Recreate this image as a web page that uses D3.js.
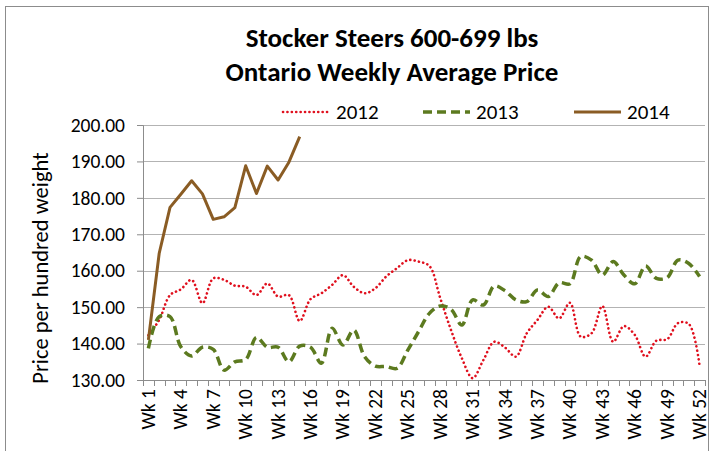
<!DOCTYPE html>
<html>
<head>
<meta charset="utf-8">
<script src="https://cdn.jsdelivr.net/npm/d3@7"></script>
<style>
    body { margin: 0; background: #fff; }
    text { font-family: Calibri, Carlito, "Liberation Sans", sans-serif; }
</style>
</head>
<body>
<svg id="chart" width="713" height="451"></svg>
<script>

// weekly averages, $/cwt
var weeks = d3.range(1, 53).map(function(d) { return 'Wk ' + d; });

var prices2012 = [142.3, 146.5, 153.3, 154.9, 157.5, 151.1, 157.9, 157.5, 155.9, 155.6,
                  153.3, 156.5, 152.9, 153.3, 146.2, 152.2, 153.8, 156.1, 158.8, 155.6,
                  153.8, 155.2, 158.4, 160.7, 162.9, 162.5, 161.3, 152.5, 143.7, 136.0,
                  130.5, 135.5, 140.5, 138.9, 136.4, 142.8, 146.5, 150.1, 146.9, 151.2,
                  141.9, 142.8, 150.3, 140.5, 144.8, 142.4, 136.4, 140.8, 141.2, 145.6,
                  145.4, 133.9];

var prices2013 = [138.7, 147.4, 147.4, 139.1, 136.6, 139.0, 138.4, 132.7, 135.0, 135.6,
                  141.7, 139.0, 139.0, 135.0, 139.3, 139.0, 134.6, 144.2, 139.6, 143.7,
                  136.4, 133.8, 133.7, 133.2, 138.2, 143.3, 148.3, 150.3, 149.4, 145.1,
                  152.0, 150.6, 155.8, 154.5, 152.0, 151.5, 154.7, 152.9, 156.7, 156.4,
                  163.9, 162.9, 158.8, 162.5, 158.8, 156.4, 161.3, 157.9, 158.1, 162.9,
                  162.0, 158.4];

var prices2014 = [141.0, 164.8, 177.4, 181.0, 184.7, 181.1, 174.1, 174.8, 177.3, 188.8,
                  181.2, 188.7, 184.9, 189.8, 196.8];

var yTicks = [130, 140, 150, 160, 170, 180, 190, 200];
var xLabelWeeks = [1, 4, 7, 10, 13, 16, 19, 22, 25, 28, 31, 34, 37, 40, 43, 46, 49, 52];

var series = [
    { name: '2012', values: prices2012, color: '#e0101e', width: 2.6, dash: '0.1,4.3', cap: 'round', curve: d3.curveCatmullRom },
    { name: '2013', values: prices2013, color: '#5c7a1f', width: 3.5, dash: '9,5', cap: 'butt', curve: d3.curveCatmullRom },
    { name: '2014', values: prices2014, color: '#8a5c24', width: 3, dash: null, cap: 'butt', curve: d3.curveLinear }
];

var svg = d3.select('#chart');

var margin = { left: 143, right: 8, top: 125, bottom: 71 };
var width = 713 - margin.left - margin.right;
var height = 451 - margin.top - margin.bottom;

// chart frame
svg.append('rect')
    .attr('x', 5.5)
    .attr('y', 6.5)
    .attr('width', 703)
    .attr('height', 450)
    .attr('fill', 'none')
    .attr('stroke', '#8c8c8c')
    .attr('stroke-width', 1);

// title
svg.append('text')
    .attr('x', 392)
    .attr('y', 47)
    .attr('text-anchor', 'middle')
    .attr('font-size', 27)
    .attr('font-weight', 'bold')
    .text('Stocker Steers 600-699 lbs');

svg.append('text')
    .attr('x', 392)
    .attr('y', 81)
    .attr('text-anchor', 'middle')
    .attr('font-size', 27)
    .attr('font-weight', 'bold')
    .text('Ontario Weekly Average Price');

var g = svg.append('g')
    .attr('transform', 'translate(' + margin.left + ',' + margin.top + ')');

var x = d3.scaleBand()
    .domain(weeks)
    .range([0, width]);

var y = d3.scaleLinear()
    .domain([130, 200])
    .range([height, 0]);

// gridlines
g.selectAll('.grid')
    .data(yTicks.slice(1))
    .enter()
    .append('line')
        .attr('class', 'grid')
        .attr('x1', 0)
        .attr('x2', width)
        .attr('y1', function(d) { return Math.round(y(d)) + 0.5; })
        .attr('y2', function(d) { return Math.round(y(d)) + 0.5; })
        .attr('stroke', '#b3b3b3')
        .attr('stroke-width', 1.2);

// y axis
var yAxis = g.append('g')
    .call(d3.axisLeft(y).tickValues(yTicks).tickSize(6).tickPadding(12)
        .tickFormat(function(d) { return d3.format('.2f')(d); }));

yAxis.select('.domain').attr('stroke', '#8c8c8c');
yAxis.selectAll('.tick line').attr('stroke', '#8c8c8c');
yAxis.selectAll('.tick text')
    .attr('font-size', 19.5)
    .attr('fill', '#000');

// x axis: ticks between categories, labels every third week
var xAxis = g.append('g')
    .attr('transform', 'translate(0,' + height + ')');

xAxis.append('line')
    .attr('x1', 0)
    .attr('x2', width)
    .attr('y1', 0.5)
    .attr('y2', 0.5)
    .attr('stroke', '#8c8c8c');

xAxis.selectAll('.xtick')
    .data(d3.range(0, weeks.length + 1))
    .enter()
    .append('line')
        .attr('class', 'xtick')
        .attr('x1', function(d) { return Math.round(d * x.bandwidth()) + 0.5; })
        .attr('x2', function(d) { return Math.round(d * x.bandwidth()) + 0.5; })
        .attr('y1', 0)
        .attr('y2', 6)
        .attr('stroke', '#8c8c8c');

xAxis.selectAll('.xlabel')
    .data(xLabelWeeks)
    .enter()
    .append('text')
        .attr('class', 'xlabel')
        .attr('font-size', 19.5)
        .attr('text-anchor', 'end')
        .attr('transform', function(d) {
            var cx = x('Wk ' + d) + x.bandwidth() / 2 + 6.5;
            return 'translate(' + cx + ',9) rotate(-90)';
        })
        .text(function(d) { return 'Wk ' + d; });

// y axis title
svg.append('text')
    .attr('transform', 'translate(48,268) rotate(-90)')
    .attr('text-anchor', 'middle')
    .attr('font-size', 22.5)
    .text('Price per hundred weight');

// lines
series.forEach(function(s) {
    var line = d3.line()
        .x(function(d, i) { return x(weeks[i]) + x.bandwidth() / 2; })
        .y(function(d) { return y(d); })
        .curve(s.curve);

    g.append('path')
        .datum(s.values)
        .attr('d', line)
        .attr('fill', 'none')
        .attr('stroke', s.color)
        .attr('stroke-width', s.width)
        .attr('stroke-dasharray', s.dash)
        .attr('stroke-linecap', s.cap)
        .attr('stroke-linejoin', 'round');
});

// legend
var legendX = [283, 423, 574];

var legend = svg.selectAll('.legend')
    .data(series)
    .enter()
    .append('g')
        .attr('class', 'legend')
        .attr('transform', function(d, i) { return 'translate(' + legendX[i] + ',112)'; });

legend.append('line')
    .attr('x1', 0)
    .attr('x2', 47)
    .attr('y1', 0)
    .attr('y2', 0)
    .attr('stroke', function(d) { return d.color; })
    .attr('stroke-width', function(d) { return d.width; })
    .attr('stroke-dasharray', function(d) { return d.dash; })
    .attr('stroke-linecap', function(d) { return d.cap; });

legend.append('text')
    .attr('x', 53)
    .attr('y', 7)
    .attr('font-size', 21)
    .text(function(d) { return d.name; });

</script>
</body>
</html>
